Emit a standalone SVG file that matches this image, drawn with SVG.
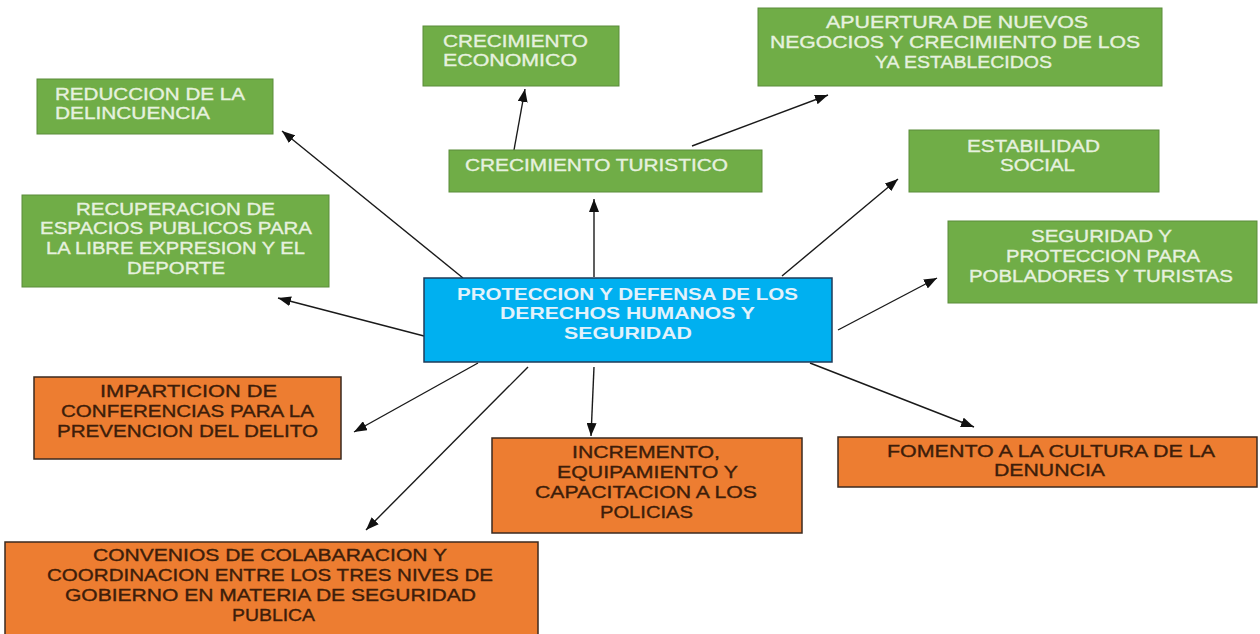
<svg xmlns="http://www.w3.org/2000/svg" width="1260" height="634" viewBox="0 0 1260 634">
<style>
.g{fill:#70ad47;stroke:#5a8c3a;stroke-width:1}
.o{fill:#ed7d31;stroke:#3b2a1f;stroke-width:1.5}
.b{fill:#00b0f0;stroke:#1f3b5a;stroke-width:1.5}
text{font-family:"Liberation Sans",Arial,sans-serif;font-size:16.5px}
.gt{fill:#e6f1df;stroke:#e6f1df;stroke-width:0.35}
.ot{fill:#3d1d0a;stroke:#3d1d0a;stroke-width:0.35}
.bt{fill:#e3f2fb;font-weight:bold}
.c{stroke:#1a1a1a;stroke-width:1.4;fill:none;marker-end:url(#ah)}
</style>
<defs>
<marker id="ah" markerUnits="userSpaceOnUse" markerWidth="14" markerHeight="10" refX="13" refY="5" orient="auto">
<path d="M0,0 L13,5 L0,10 z" fill="#111"/>
</marker>
</defs>
<rect width="1260" height="634" fill="#ffffff"/>
<g id="connectors">
<line class="c" x1="463" y1="278" x2="282" y2="131"/>
<line class="c" x1="594" y1="277" x2="594" y2="199"/>
<line class="c" x1="514" y1="150" x2="525" y2="89"/>
<line class="c" x1="692" y1="146" x2="828" y2="95"/>
<line class="c" x1="782" y1="276" x2="898" y2="179"/>
<line class="c" x1="838" y1="330" x2="937" y2="278"/>
<line class="c" x1="424" y1="336" x2="278" y2="298"/>
<line class="c" x1="478" y1="363" x2="354" y2="432"/>
<line class="c" x1="528" y1="367" x2="366" y2="530"/>
<line class="c" x1="594" y1="367" x2="591" y2="436"/>
<line class="c" x1="810" y1="363" x2="974" y2="427"/>
</g>
<g id="reduccion">
<rect class="g" x="37" y="79" width="236" height="55"/>
<text class="gt" x="55" y="100" textLength="190" lengthAdjust="spacingAndGlyphs">REDUCCION DE LA</text>
<text class="gt" x="55" y="119" textLength="155" lengthAdjust="spacingAndGlyphs">DELINCUENCIA</text>
</g>
<g id="economico">
<rect class="g" x="423" y="26" width="196" height="60"/>
<text class="gt" x="443" y="47" textLength="145" lengthAdjust="spacingAndGlyphs">CRECIMIENTO</text>
<text class="gt" x="443" y="66" textLength="134" lengthAdjust="spacingAndGlyphs">ECONOMICO</text>
</g>
<g id="apuertura">
<rect class="g" x="758" y="8" width="404" height="78"/>
<text class="gt" x="826" y="28" textLength="262" lengthAdjust="spacingAndGlyphs">APUERTURA DE NUEVOS</text>
<text class="gt" x="770" y="48" textLength="370" lengthAdjust="spacingAndGlyphs">NEGOCIOS Y CRECIMIENTO DE LOS</text>
<text class="gt" x="875" y="68" textLength="177" lengthAdjust="spacingAndGlyphs">YA ESTABLECIDOS</text>
</g>
<g id="turistico">
<rect class="g" x="449" y="150" width="313" height="42"/>
<text class="gt" x="465" y="171" textLength="263" lengthAdjust="spacingAndGlyphs">CRECIMIENTO TURISTICO</text>
</g>
<g id="estabilidad">
<rect class="g" x="909" y="130" width="250" height="62"/>
<text class="gt" x="967" y="152" textLength="133" lengthAdjust="spacingAndGlyphs">ESTABILIDAD</text>
<text class="gt" x="1000" y="171" textLength="75" lengthAdjust="spacingAndGlyphs">SOCIAL</text>
</g>
<g id="seguridad">
<rect class="g" x="948" y="221" width="309" height="82"/>
<text class="gt" x="1031" y="242" textLength="141" lengthAdjust="spacingAndGlyphs">SEGURIDAD Y</text>
<text class="gt" x="1006" y="262" textLength="194" lengthAdjust="spacingAndGlyphs">PROTECCION PARA</text>
<text class="gt" x="969" y="282" textLength="264" lengthAdjust="spacingAndGlyphs">POBLADORES Y TURISTAS</text>
</g>
<g id="recuperacion">
<rect class="g" x="22" y="195" width="307" height="92"/>
<text class="gt" x="76" y="215" textLength="199" lengthAdjust="spacingAndGlyphs">RECUPERACION DE</text>
<text class="gt" x="40" y="234" textLength="272" lengthAdjust="spacingAndGlyphs">ESPACIOS PUBLICOS PARA</text>
<text class="gt" x="46" y="254" textLength="259" lengthAdjust="spacingAndGlyphs">LA LIBRE EXPRESION Y EL</text>
<text class="gt" x="127" y="274" textLength="98" lengthAdjust="spacingAndGlyphs">DEPORTE</text>
</g>
<g id="centro">
<rect class="b" x="424" y="278" width="408" height="84"/>
<text class="bt" x="457" y="300" textLength="341" lengthAdjust="spacingAndGlyphs">PROTECCION Y DEFENSA DE LOS</text>
<text class="bt" x="500" y="319" textLength="255" lengthAdjust="spacingAndGlyphs">DERECHOS HUMANOS Y</text>
<text class="bt" x="564" y="339" textLength="128" lengthAdjust="spacingAndGlyphs">SEGURIDAD</text>
</g>
<g id="imparticion">
<rect class="o" x="34" y="377" width="307" height="82"/>
<text class="ot" x="100" y="397" textLength="177" lengthAdjust="spacingAndGlyphs">IMPARTICION DE</text>
<text class="ot" x="61" y="417" textLength="253" lengthAdjust="spacingAndGlyphs">CONFERENCIAS PARA LA</text>
<text class="ot" x="57" y="437" textLength="261" lengthAdjust="spacingAndGlyphs">PREVENCION DEL DELITO</text>
</g>
<g id="incremento">
<rect class="o" x="492" y="438" width="310" height="95"/>
<text class="ot" x="572" y="458" textLength="148" lengthAdjust="spacingAndGlyphs">INCREMENTO,</text>
<text class="ot" x="557" y="478" textLength="181" lengthAdjust="spacingAndGlyphs">EQUIPAMIENTO Y</text>
<text class="ot" x="535" y="498" textLength="222" lengthAdjust="spacingAndGlyphs">CAPACITACION A LOS</text>
<text class="ot" x="600" y="518" textLength="93" lengthAdjust="spacingAndGlyphs">POLICIAS</text>
</g>
<g id="fomento">
<rect class="o" x="838" y="437" width="419" height="50"/>
<text class="ot" x="887" y="457" textLength="328" lengthAdjust="spacingAndGlyphs">FOMENTO A LA CULTURA DE LA</text>
<text class="ot" x="994" y="476" textLength="111" lengthAdjust="spacingAndGlyphs">DENUNCIA</text>
</g>
<g id="convenios">
<rect class="o" x="5" y="542" width="533" height="100"/>
<text class="ot" x="93" y="561" textLength="354" lengthAdjust="spacingAndGlyphs">CONVENIOS DE COLABARACION Y</text>
<text class="ot" x="47" y="581" textLength="446" lengthAdjust="spacingAndGlyphs">COORDINACION ENTRE LOS TRES NIVES DE</text>
<text class="ot" x="65" y="601" textLength="411" lengthAdjust="spacingAndGlyphs">GOBIERNO EN MATERIA DE SEGURIDAD</text>
<text class="ot" x="232" y="621" textLength="83" lengthAdjust="spacingAndGlyphs">PUBLICA</text>
</g>
</svg>
